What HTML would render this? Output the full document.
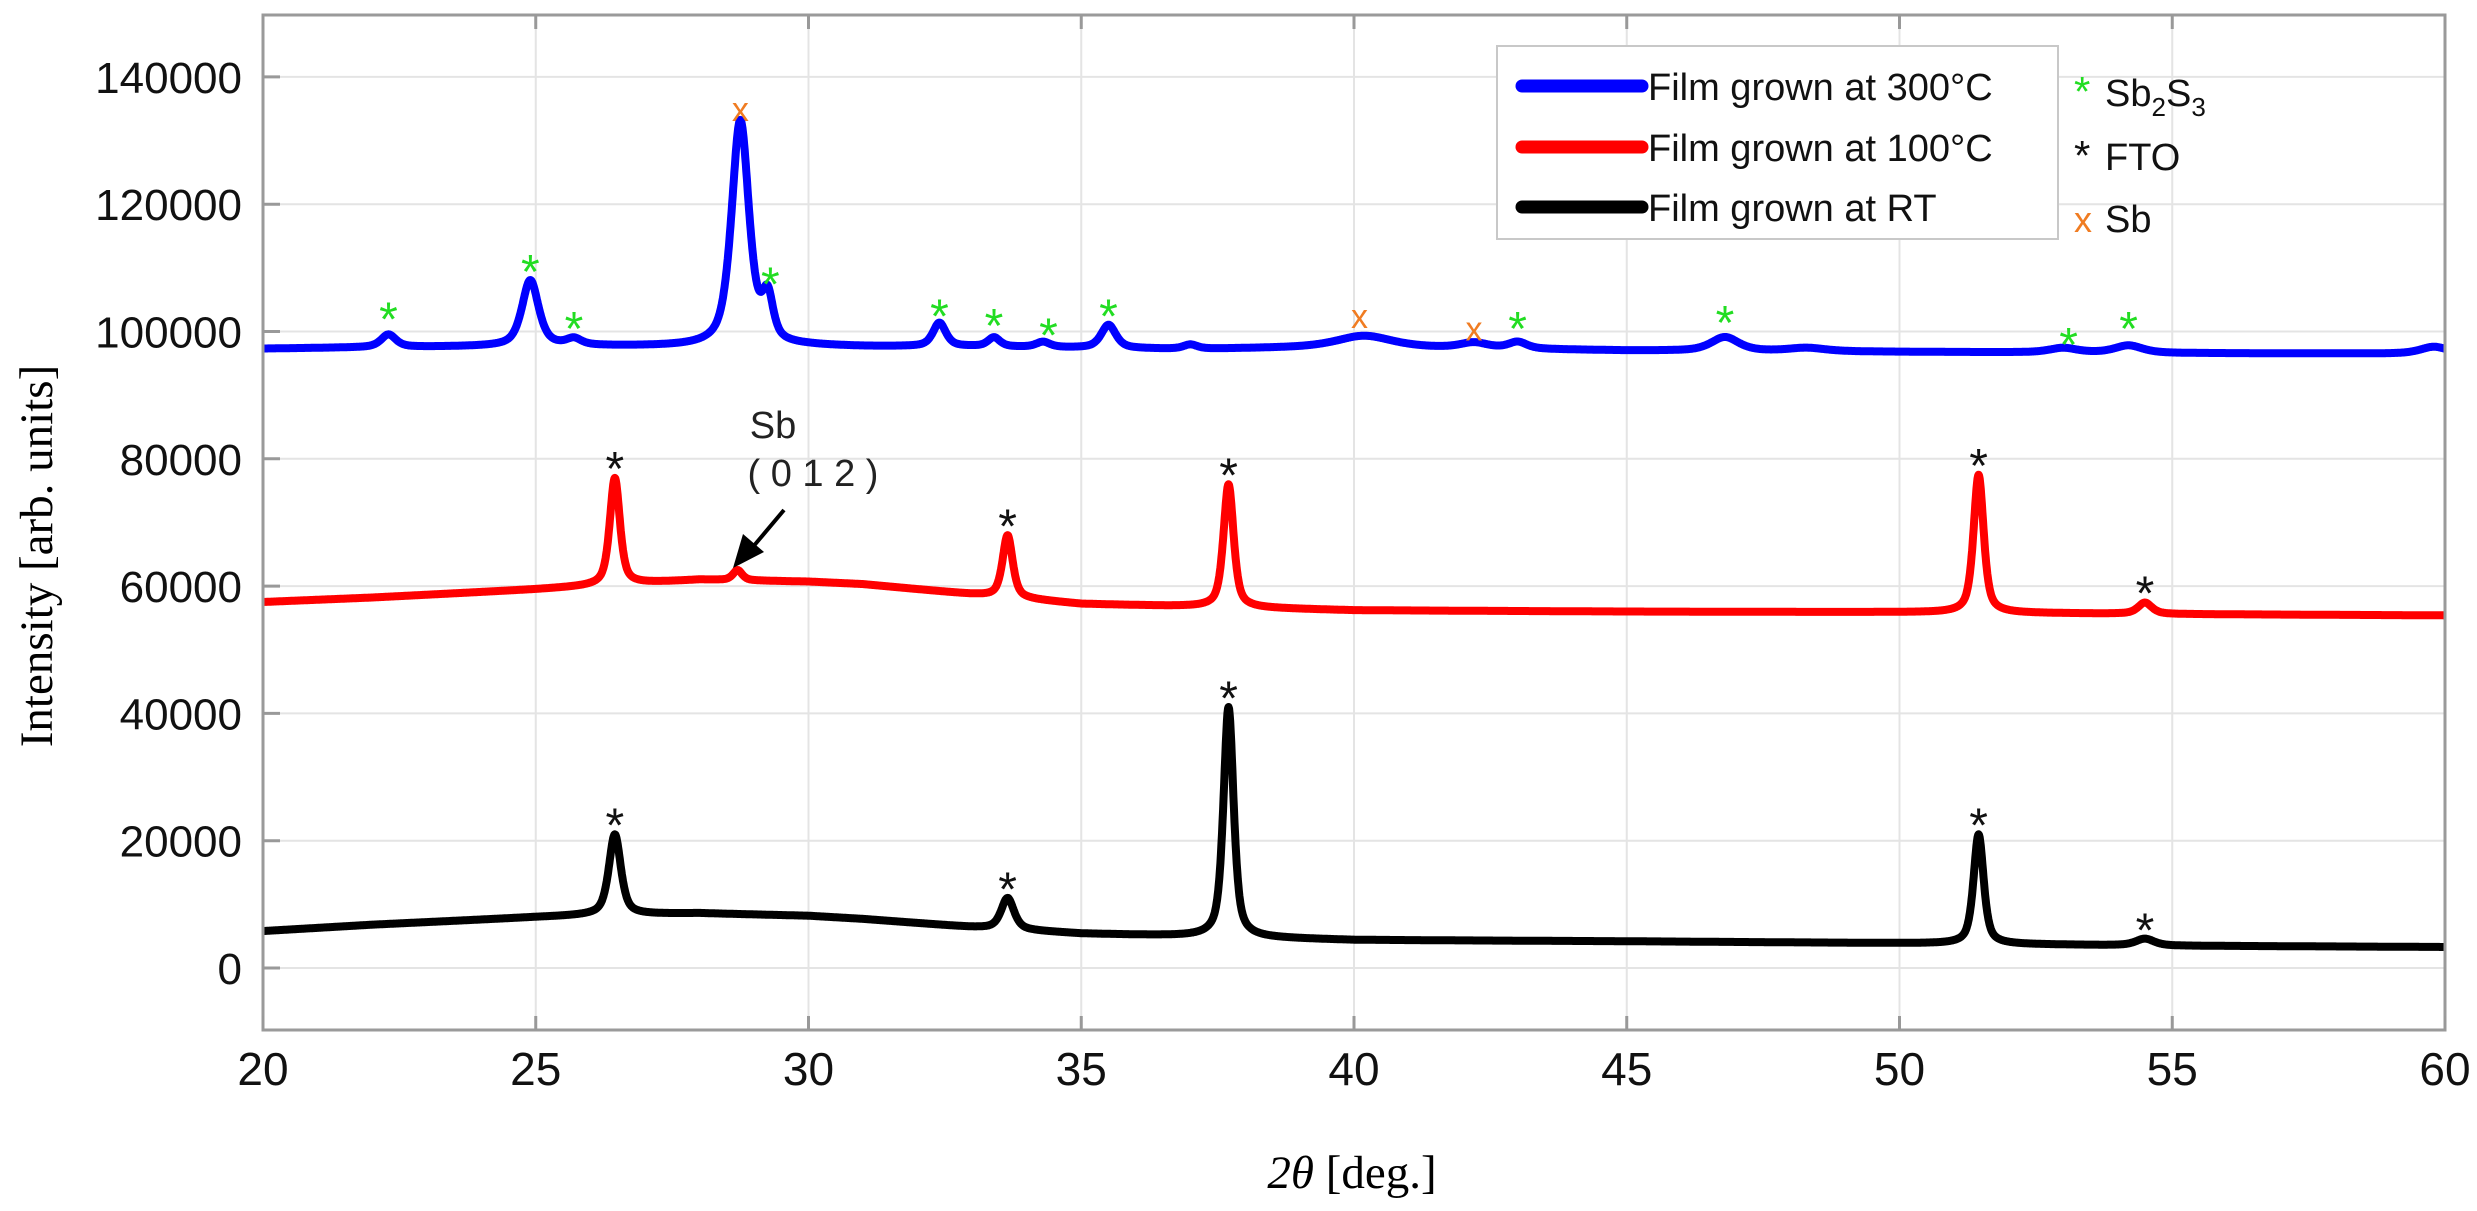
<!DOCTYPE html>
<html><head><meta charset="utf-8"><style>
html,body{margin:0;padding:0;background:#fff}
svg{display:block}
</style></head><body>
<svg id="chart" width="2477" height="1211" viewBox="0 0 2477 1211" xmlns="http://www.w3.org/2000/svg">
<g id="grid"></g>
<g id="series"></g>
<g id="marks"></g>
<rect x="263" y="15" width="2182" height="1015" fill="none" stroke="#9a9a9a" stroke-width="3"/>
<g id="ticks"></g>
<text transform="translate(52,556) rotate(-90)" text-anchor="middle" font-family="Liberation Serif, serif" font-size="47">Intensity [arb. units]</text>
<text x="1352" y="1188" text-anchor="middle" font-family="Liberation Serif, serif" font-size="47"><tspan font-style="italic">2θ</tspan> [deg.]</text>
<g font-family="Liberation Sans, sans-serif" font-size="38" fill="#222">
<text x="773" y="438" text-anchor="middle">Sb</text>
<text x="813" y="486" text-anchor="middle">( 0 1 2 )</text>
<line x1="784" y1="510" x2="752" y2="548" stroke="#000" stroke-width="4"/>
<polygon points="733,568 743,534 764,552" fill="#000"/>
</g>
<g>
<rect x="1497" y="46" width="561" height="193" fill="#fff" stroke="#c8c8c8" stroke-width="2"/>
<line x1="1522" y1="86" x2="1642" y2="86" stroke="#0000ff" stroke-width="13" stroke-linecap="round"/>
<line x1="1522" y1="147" x2="1642" y2="147" stroke="#ff0000" stroke-width="13" stroke-linecap="round"/>
<line x1="1522" y1="207" x2="1642" y2="207" stroke="#000" stroke-width="13" stroke-linecap="round"/>
<g font-family="Liberation Sans, sans-serif" font-size="38" fill="#111">
<text x="1648" y="100">Film grown at 300°C</text>
<text x="1648" y="161">Film grown at 100°C</text>
<text x="1648" y="221">Film grown at RT</text>
<text x="2074" y="106" fill="#22dd22" font-size="42">*</text>
<text x="2105" y="106">Sb<tspan font-size="26" dy="10">2</tspan><tspan dy="-10">S</tspan><tspan font-size="26" dy="10">3</tspan></text>
<text x="2074" y="170" fill="#111" font-size="42">*</text>
<text x="2105" y="170">FTO</text>
<text x="2074" y="232" fill="#f07c22" font-size="36">x</text>
<text x="2105" y="232">Sb</text>
</g>
</g>
</svg>
<script>
// ---- axis ticks ----
const xTicks = [20,25,30,35,40,45,50,55,60];
const yTicks = [0,20000,40000,60000,80000,100000,120000,140000];
// ---- series data: baseline control points ----
const baseX = [20,22,25,26,28,30,31,33,35,37,40,45,50,55,60];
const blueBase = [97300,97500,97700,97700,97600,97700,97600,97600,97400,97200,97600,97000,96800,96600,96500];
const redBase  = [57500,58200,59500,60000,61000,60700,60300,58700,57200,56800,56200,56000,55900,55600,55400];
const blackBase= [5800,6800,8000,8300,8600,8200,7700,6400,5400,5000,4400,4200,3900,3500,3300];
// peaks: centre (deg), top intensity, half-width (deg)
const bluePeakPos = [22.3,24.9,25.7,28.75,29.25,32.4,33.4,34.3,35.5,37.0,40.2,42.2,43.0,46.8,48.3,53.0,54.2,59.8];
const bluePeakTop = [99500,108000,98700,133000,104500,101300,99000,98300,101000,97900,99300,98200,98300,99100,97400,97400,97800,97600];
const bluePeakW   = [0.16,0.18,0.16,0.19,0.12,0.14,0.13,0.15,0.16,0.15,0.6,0.3,0.2,0.3,0.4,0.3,0.3,0.3];
const redPeakPos = [26.45,28.7,33.65,37.7,51.45,54.5];
const redPeakTop = [77000,62500,68000,76000,77500,57400];
const redPeakW   = [0.11,0.1,0.11,0.11,0.11,0.15];
const blackPeakPos = [26.45,33.65,37.7,51.45,54.5];
const blackPeakTop = [21000,11000,41000,21000,4600];
const blackPeakW   = [0.13,0.14,0.11,0.11,0.2];
// ---- markers ----
const greenMarkX = [22.3,24.9,25.7,29.3,32.4,33.4,34.4,35.5,43.0,46.8,53.1,54.2];
const greenMarkY = [103500,111000,102000,109000,104000,102500,101000,104000,102000,103000,99500,102000];
const orangeMarkX = [28.75,40.1,42.2];
const orangeMarkY = [136000,103500,101500];
const blackMarkX = [26.45,33.65,37.7,51.45,54.5,26.45,33.65,37.7,51.45,54.5];
const blackMarkY = [80000,71000,79000,80500,60500,24000,14000,44000,24000,7500];

const NS='http://www.w3.org/2000/svg';
const X0=263,X1=2445,Y0=968,PX=127.3/20000;
function sx(v){return X0+(v-20)*(X1-X0)/40;}
function sy(v){return Y0-v*PX;}
function mk(tag,attrs,parent){const e=document.createElementNS(NS,tag);for(const k in attrs)e.setAttribute(k,attrs[k]);parent.appendChild(e);return e;}
const grid=document.getElementById('grid'),ticks=document.getElementById('ticks');
xTicks.forEach(t=>{
  const g=mk('line',{x1:sx(t),x2:sx(t),y1:15,y2:1030,stroke:'#e4e4e4','stroke-width':2},grid);
  
  
  const a=mk('line',{x1:sx(t),x2:sx(t),y1:1030,y2:1016,stroke:'#999','stroke-width':3},ticks);
  
  
  const b=mk('line',{x1:sx(t),x2:sx(t),y1:15,y2:29,stroke:'#999','stroke-width':3},ticks);
  
  
  const l=mk('text',{x:sx(t),y:1085,'text-anchor':'middle','font-family':'Liberation Sans Narrow, Liberation Sans, sans-serif','font-size':46,fill:'#111'},ticks);
  l.textContent=t;
  
  
});
yTicks.forEach(t=>{
  const g=mk('line',{x1:263,x2:2445,y1:sy(t),y2:sy(t),stroke:'#e4e4e4','stroke-width':2},grid);
  
  
  const a=mk('line',{x1:263,x2:280,y1:sy(t),y2:sy(t),stroke:'#999','stroke-width':3},ticks);
  
  
  const l=mk('text',{x:242,y:sy(t)+16,'text-anchor':'end','font-family':'Liberation Sans, sans-serif','font-size':44,fill:'#111'},ticks);
  l.textContent=t;
  
  
});
function interp(xs,ys,x){
  for(let i=0;i<xs.length-1;i++){if(x<=xs[i+1]){const f=(x-xs[i])/(xs[i+1]-xs[i]);return ys[i]+f*(ys[i+1]-ys[i]);}}
  return ys[ys.length-1];
}
function curve(base,pos,top,w){
  const amps=pos.map((c,i)=>top[i]-interp(baseX,base,c));
  let d='';
  for(let x=20;x<=60.0001;x+=0.01){
    let y=interp(baseX,base,x);
    pos.forEach((c,i)=>{const u=(x-c)/w[i];y+=amps[i]*(0.6/(1+u*u)+0.4*Math.exp(-0.693*u*u));});
    d+=(d?'L':'M')+sx(x).toFixed(1)+','+sy(y).toFixed(1);
  }
  return d;
}
const ser=document.getElementById('series');
const p1=mk('path',{d:curve(blackBase,blackPeakPos,blackPeakTop,blackPeakW),fill:'none',stroke:'#000','stroke-width':8,'stroke-linejoin':'round'},ser);


const p2=mk('path',{d:curve(redBase,redPeakPos,redPeakTop,redPeakW),fill:'none',stroke:'#ff0000','stroke-width':8,'stroke-linejoin':'round'},ser);


const p3=mk('path',{d:curve(blueBase,bluePeakPos,bluePeakTop,bluePeakW),fill:'none',stroke:'#0000ff','stroke-width':8,'stroke-linejoin':'round'},ser);


const marks=document.getElementById('marks');
function mark(x,y,ch,col,size,name){
  const t=mk('text',{x:sx(x),y:sy(y)+size*0.55,'text-anchor':'middle','font-family':'Liberation Sans, sans-serif','font-size':size,fill:col},marks);
  t.textContent=ch;
  
  
}
greenMarkX.forEach((x,i)=>mark(x,greenMarkY[i],'*','#22dd22',48,'sb2s3-marker'));
orangeMarkX.forEach((x,i)=>mark(x,orangeMarkY[i],'x','#f07c22',34,'sb-marker'));
blackMarkX.forEach((x,i)=>mark(x,blackMarkY[i],'*','#111',48,'fto-marker'));
</script>
</body></html>
